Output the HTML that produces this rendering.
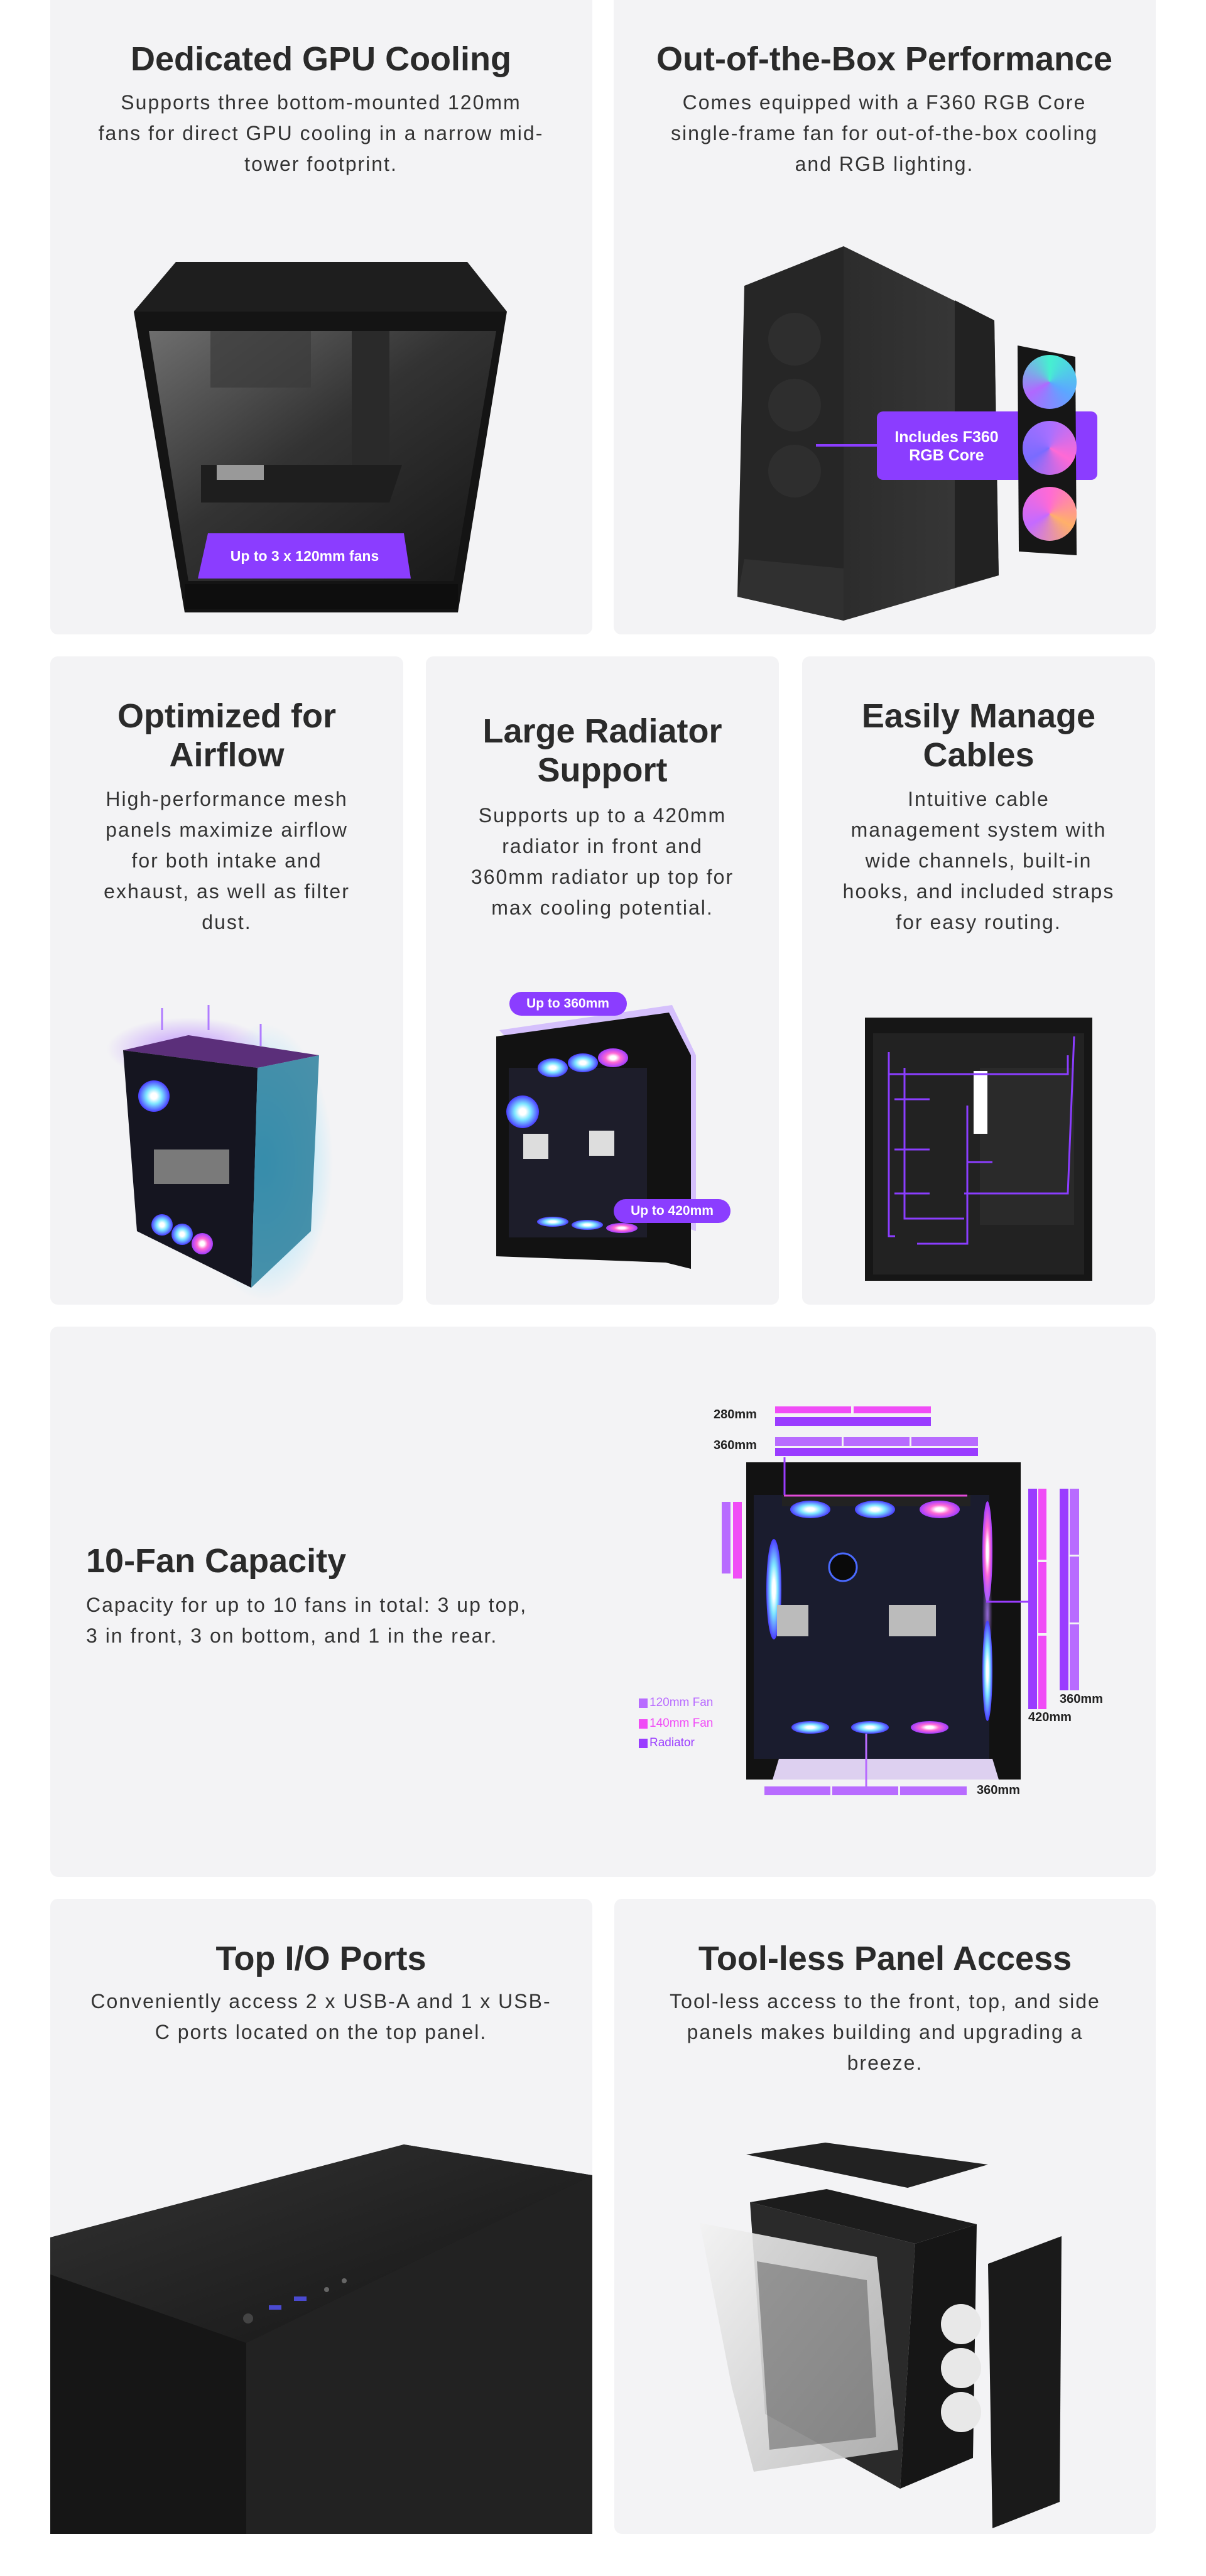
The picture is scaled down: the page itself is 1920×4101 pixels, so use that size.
<!DOCTYPE html>
<html><head><meta charset="utf-8">
<style>
*{margin:0;padding:0;box-sizing:border-box}
body{width:1920px;height:4101px;background:#fff;position:relative;overflow:hidden;font-family:"Liberation Sans",sans-serif}
.card{position:absolute;background:#f3f3f5;border-radius:12px}
.t{position:absolute;transform:translateX(-50%);white-space:nowrap;text-align:center;z-index:3}
.h{font-weight:bold;font-size:54px;line-height:62px;color:#2a2a2a}
.b{font-size:32px;line-height:49px;color:#333;letter-spacing:2px}
.lbl{position:absolute;z-index:3;color:#fff;font-weight:bold;white-space:nowrap}
svg{position:absolute;left:0;top:0;z-index:2}
.fan{position:absolute;border-radius:50%;z-index:4}
</style></head><body>
<div class="card" style="left:80px;top:-12px;width:863px;height:1022px"></div>
<div class="card" style="left:977px;top:-12px;width:863px;height:1022px"></div>
<div class="card" style="left:80px;top:1045px;width:562px;height:1032px"></div>
<div class="card" style="left:678px;top:1045px;width:562px;height:1032px"></div>
<div class="card" style="left:1277px;top:1045px;width:562px;height:1032px"></div>
<div class="card" style="left:80px;top:2112px;width:1760px;height:876px"></div>
<div class="card" style="left:80px;top:3023px;width:863px;height:1011px;overflow:hidden"></div>
<div class="card" style="left:978px;top:3023px;width:862px;height:1011px"></div>

<svg width="1920" height="4101" viewBox="0 0 1920 4101">
<defs>
<linearGradient id="glass" x1="0" y1="0" x2="1" y2="1"><stop offset="0" stop-color="#6e6e6e"/><stop offset=".45" stop-color="#333"/><stop offset="1" stop-color="#161616"/></linearGradient>
<linearGradient id="side" x1="0" y1="0" x2="1" y2="0"><stop offset="0" stop-color="#2c2c2c"/><stop offset="1" stop-color="#3a3a3a"/></linearGradient>
<radialGradient id="blue" cx=".5" cy=".5" r=".5"><stop offset="0" stop-color="#6fd8ff" stop-opacity=".9"/><stop offset="1" stop-color="#6fd8ff" stop-opacity="0"/></radialGradient>
<radialGradient id="pur" cx=".5" cy=".5" r=".5"><stop offset="0" stop-color="#b27cff" stop-opacity=".8"/><stop offset="1" stop-color="#b27cff" stop-opacity="0"/></radialGradient>
<radialGradient id="fc" cx=".5" cy=".5" r=".5"><stop offset=".2" stop-color="#fff"/><stop offset=".5" stop-color="#7ee6ff"/><stop offset="1" stop-color="#4a3cff"/></radialGradient>
<radialGradient id="fp" cx=".5" cy=".5" r=".5"><stop offset=".2" stop-color="#fff"/><stop offset=".5" stop-color="#ff6ad5"/><stop offset="1" stop-color="#a13cff"/></radialGradient>
<linearGradient id="topd" x1="0" y1="0" x2="1" y2="1"><stop offset="0" stop-color="#333"/><stop offset="1" stop-color="#141414"/></linearGradient>
<linearGradient id="wg" x1="0" y1="0" x2="1" y2="1"><stop offset="0" stop-color="#f2f2f2"/><stop offset="1" stop-color="#bdbdbd"/></linearGradient>
</defs>
<!-- Row1 card1 case -->
<polygon points="213,496 280,417 744,417 807,496" fill="#1e1e1e"/>
<polygon points="213,496 807,496 729,975 294,975" fill="#141414"/>
<polygon points="237,527 790,527 722,925 300,925" fill="url(#glass)"/>
<rect x="335" y="527" width="160" height="90" fill="#3a3a3a" opacity=".7"/>
<rect x="560" y="527" width="60" height="230" fill="#2a2a2a"/>
<polygon points="320,740 640,740 620,800 320,800" fill="#1e1e1e"/>
<rect x="345" y="740" width="75" height="24" fill="#999"/>
<polygon points="331,849 643,849 654,921 315,921" fill="#8b3dff"/>
<rect x="294" y="930" width="435" height="40" fill="#0e0e0e"/>
<!-- Row1 card2 case -->
<polygon points="1185,455 1343,392 1343,988 1174,950" fill="#262626"/>
<polygon points="1343,392 1583,510 1590,916 1343,988" fill="url(#side)"/>
<polygon points="1520,478 1583,510 1590,916 1520,935" fill="#222"/>
<polygon points="1185,890 1343,905 1343,988 1174,950" fill="#303030"/>
<circle cx="1265" cy="540" r="42" fill="#2e2e2e"/><circle cx="1265" cy="645" r="42" fill="#2e2e2e"/><circle cx="1265" cy="750" r="42" fill="#2e2e2e"/>
<line x1="1299" y1="709" x2="1396" y2="709" stroke="#8b3dff" stroke-width="4"/>
<rect x="1396" y="655" width="351" height="109" rx="10" fill="#8b3dff"/>
<polygon points="1620,550 1712,568 1714,884 1622,878" fill="#161616"/>
<!-- Row2 card1 airflow -->
<ellipse cx="420" cy="1850" rx="110" ry="220" fill="url(#blue)"/>
<ellipse cx="300" cy="1670" rx="130" ry="50" fill="url(#pur)"/>
<polygon points="196,1672 300,1648 508,1680 410,1700" fill="#5b2f7a"/>
<polygon points="196,1672 410,1700 400,2050 218,1960" fill="#151520"/>
<polygon points="410,1700 508,1680 495,1960 400,2050" fill="#2a7f9c" opacity=".85"/>
<circle cx="245" cy="1745" r="25" fill="url(#fc)"/>
<rect x="245" y="1830" width="120" height="55" fill="#7a7a7a"/>
<circle cx="258" cy="1950" r="17" fill="url(#fc)"/><circle cx="290" cy="1965" r="17" fill="url(#fc)"/><circle cx="322" cy="1980" r="17" fill="url(#fp)"/>
<line x1="258" y1="1640" x2="258" y2="1605" stroke="#b07cff" stroke-width="3"/>
<line x1="332" y1="1640" x2="332" y2="1600" stroke="#b07cff" stroke-width="3"/>
<line x1="415" y1="1665" x2="415" y2="1630" stroke="#b07cff" stroke-width="3"/>
<!-- Row2 card2 radiator -->
<polygon points="795,1640 1070,1600 1108,1680 1108,1960 1080,1950" fill="#c7a9ff" opacity=".7"/>
<polygon points="790,1650 1065,1612 1100,1680 1100,2020 1060,2010 790,2000" fill="#121212"/>
<rect x="810" y="1700" width="220" height="270" fill="#1d1d2a"/>
<circle cx="832" cy="1770" r="26" fill="url(#fc)"/>
<ellipse cx="880" cy="1700" rx="24" ry="15" fill="url(#fc)"/><ellipse cx="928" cy="1692" rx="24" ry="15" fill="url(#fc)"/><ellipse cx="976" cy="1684" rx="24" ry="15" fill="url(#fp)"/>
<rect x="833" y="1805" width="40" height="40" fill="#ddd"/><rect x="938" y="1800" width="40" height="40" fill="#ddd"/>
<ellipse cx="880" cy="1945" rx="25" ry="8" fill="url(#fc)"/><ellipse cx="935" cy="1950" rx="25" ry="8" fill="url(#fc)"/><ellipse cx="990" cy="1955" rx="25" ry="8" fill="url(#fp)"/>
<rect x="811" y="1579" width="187" height="38" rx="19" fill="#8b3dff"/>
<rect x="977" y="1909" width="186" height="38" rx="19" fill="#8b3dff"/>
<!-- Row2 card3 cables -->
<rect x="1377" y="1620" width="362" height="419" fill="#161616"/>
<rect x="1390" y="1645" width="336" height="384" fill="#222"/>
<rect x="1560" y="1700" width="150" height="250" fill="#2a2a2a"/>
<rect x="1550" y="1705" width="22" height="100" fill="#fff"/>
<g stroke="#8b3dff" stroke-width="3" fill="none">
<polyline points="1415,1675 1415,1968 1425,1968"/><polyline points="1415,1710 1700,1710 1700,1680"/><polyline points="1440,1700 1440,1940 1535,1940"/>
<polyline points="1424,1750 1480,1750"/><polyline points="1424,1830 1480,1830"/><polyline points="1424,1900 1480,1900"/>
<polyline points="1540,1760 1540,1980 1460,1980"/><polyline points="1540,1850 1580,1850"/><polyline points="1535,1900 1700,1900 1710,1650"/></g>
<!-- Row3 -->
<rect x="1234" y="2239" width="121" height="11" fill="#f04cf6"/><rect x="1359" y="2239" width="123" height="11" fill="#f04cf6"/>
<rect x="1234" y="2256" width="248" height="14" fill="#9a3cff"/>
<rect x="1234" y="2288" width="106" height="14" fill="#b86bff"/><rect x="1343" y="2288" width="105" height="14" fill="#b86bff"/><rect x="1451" y="2288" width="106" height="14" fill="#b86bff"/>
<rect x="1234" y="2305" width="323" height="13" fill="#9a3cff"/>
<rect x="1149" y="2391" width="14" height="114" fill="#b86bff"/><rect x="1167" y="2391" width="14" height="122" fill="#f04cf6"/>
<rect x="1188" y="2328" width="437" height="505" fill="#121212"/>
<rect x="1200" y="2380" width="375" height="420" fill="#1a1c2e"/>
<rect x="1245" y="2380" width="300" height="18" fill="#222"/>
<line x1="1248" y1="2381" x2="1540" y2="2381" stroke="#e24bd9" stroke-width="3"/>
<ellipse cx="1290" cy="2403" rx="32" ry="14" fill="url(#fc)"/><ellipse cx="1393" cy="2403" rx="32" ry="14" fill="url(#fc)"/><ellipse cx="1496" cy="2403" rx="32" ry="14" fill="url(#fp)"/>
<ellipse cx="1232" cy="2530" rx="12" ry="80" fill="url(#fc)"/>
<ellipse cx="1572" cy="2470" rx="8" ry="80" fill="url(#fp)"/><ellipse cx="1572" cy="2570" rx="8" ry="70" fill="url(#pur)"/><ellipse cx="1572" cy="2660" rx="8" ry="80" fill="url(#fc)"/>
<circle cx="1342" cy="2495" r="22" fill="#0a0a0a" stroke="#4a6aff" stroke-width="3"/>
<rect x="1237" y="2555" width="50" height="50" fill="#bbb"/><rect x="1415" y="2555" width="75" height="50" fill="#bbb"/>
<ellipse cx="1290" cy="2750" rx="30" ry="10" fill="url(#fc)"/><ellipse cx="1385" cy="2750" rx="30" ry="10" fill="url(#fc)"/><ellipse cx="1480" cy="2750" rx="30" ry="10" fill="url(#fp)"/>
<polygon points="1240,2800 1580,2800 1590,2833 1230,2833" fill="#ddd0f0"/>
<line x1="1249" y1="2320" x2="1249" y2="2380" stroke="#9a3cff" stroke-width="3"/>
<line x1="1379" y1="2760" x2="1379" y2="2844" stroke="#b86bff" stroke-width="3"/>
<line x1="1570" y1="2550" x2="1637" y2="2550" stroke="#9a3cff" stroke-width="3"/>
<rect x="1637" y="2370" width="14" height="351" fill="#9a3cff"/>
<rect x="1653" y="2370" width="13" height="113" fill="#f04cf6"/><rect x="1653" y="2487" width="13" height="113" fill="#f04cf6"/><rect x="1653" y="2604" width="13" height="117" fill="#f04cf6"/>
<rect x="1687" y="2370" width="14" height="321" fill="#9a3cff"/>
<rect x="1703" y="2370" width="15" height="105" fill="#b86bff"/><rect x="1703" y="2478" width="15" height="105" fill="#b86bff"/><rect x="1703" y="2586" width="15" height="105" fill="#b86bff"/>
<rect x="1217" y="2844" width="105" height="14" fill="#b86bff"/><rect x="1325" y="2844" width="105" height="14" fill="#b86bff"/><rect x="1433" y="2844" width="106" height="14" fill="#b86bff"/>
<rect x="1017" y="2704" width="14" height="15" fill="#b86bff"/><rect x="1017" y="2737" width="14" height="15" fill="#f04cf6"/><rect x="1017" y="2768" width="14" height="15" fill="#9a3cff"/>
<!-- Row4 left -->
<polygon points="80,3562 643,3414 943,3463 943,4034 80,4034" fill="#1a1a1a"/>
<polygon points="80,3562 643,3414 943,3463 392,3730 80,3621" fill="url(#topd)"/>
<polygon points="392,3730 943,3463 943,4034 392,4034" fill="#222"/>
<polygon points="80,3621 392,3730 392,4034 80,4034" fill="#161616"/>
<circle cx="395" cy="3691" r="8" fill="#444"/><rect x="428" y="3670" width="20" height="7" fill="#4a4ad0"/><rect x="468" y="3656" width="20" height="7" fill="#4a4ad0"/><circle cx="520" cy="3645" r="4" fill="#666"/><circle cx="548" cy="3631" r="4" fill="#666"/>
<!-- Row4 right exploded -->
<polygon points="1188,3430 1314,3411 1573,3446 1445,3483" fill="#222"/>
<polygon points="1194,3506 1316,3485 1555,3541 1457,3572" fill="#1c1c1c"/>
<polygon points="1194,3506 1457,3572 1433,3962 1218,3843" fill="#2a2a2a"/>
<polygon points="1457,3572 1555,3541 1549,3913 1433,3962" fill="#161616"/>
<polygon points="1114,3539 1396,3593 1430,3900 1200,3935 1165,3800" fill="url(#wg)" opacity=".9"/>
<polygon points="1205,3600 1380,3630 1395,3880 1225,3900" fill="#555" opacity=".5"/>
<circle cx="1530" cy="3700" r="32" fill="#e8e8e8"/><circle cx="1530" cy="3770" r="32" fill="#e8e8e8"/><circle cx="1530" cy="3840" r="32" fill="#e8e8e8"/>
<polygon points="1573,3604 1690,3560 1687,3983 1580,4025" fill="#1a1a1a"/>
</svg>

<div class="fan" style="left:1628px;top:565px;width:86px;height:86px;background:conic-gradient(#46f0d0,#5ba8ff,#b068ff,#46f0d0)"></div>
<div class="fan" style="left:1628px;top:670px;width:86px;height:86px;background:conic-gradient(#a770ff,#ff6ad5,#7a6bff,#a770ff)"></div>
<div class="fan" style="left:1628px;top:775px;width:86px;height:86px;background:conic-gradient(#ff6ad5,#ffb06a,#c46aff,#ff6ad5)"></div>

<div class="t h" style="left:511px;top:63px">Dedicated GPU Cooling</div>
<div class="t b" style="left:511px;top:139px">Supports three bottom-mounted 120mm<br>fans for direct GPU cooling in a narrow mid-<br>tower footprint.</div>
<div class="lbl" style="left:485px;top:872px;transform:translateX(-50%);font-size:23px">Up to 3 x 120mm fans</div>

<div class="t h" style="left:1408px;top:63px">Out-of-the-Box Performance</div>
<div class="t b" style="left:1408px;top:139px">Comes equipped with a F360 RGB Core<br>single-frame fan for out-of-the-box cooling<br>and RGB lighting.</div>
<div class="lbl" style="left:1507px;top:682px;transform:translateX(-50%);font-size:25px;line-height:29px;text-align:center;z-index:3">Includes F360<br>RGB Core</div>

<div class="t h" style="left:361px;top:1109px">Optimized for<br>Airflow</div>
<div class="t b" style="left:361px;top:1248px">High-performance mesh<br>panels maximize airflow<br>for both intake and<br>exhaust, as well as filter<br>dust.</div>
<div class="t h" style="left:959px;top:1133px">Large Radiator<br>Support</div>
<div class="t b" style="left:959px;top:1274px">Supports up to a 420mm<br>radiator in front and<br>360mm radiator up top for<br>max cooling potential.</div>
<div class="lbl" style="left:904px;top:1586px;transform:translateX(-50%);font-size:21px">Up to 360mm</div>
<div class="lbl" style="left:1070px;top:1916px;transform:translateX(-50%);font-size:21px">Up to 420mm</div>
<div class="t h" style="left:1558px;top:1109px">Easily Manage<br>Cables</div>
<div class="t b" style="left:1558px;top:1248px">Intuitive cable<br>management system with<br>wide channels, built-in<br>hooks, and included straps<br>for easy routing.</div>

<div class="h" style="position:absolute;left:137px;top:2454px;z-index:3;white-space:nowrap">10-Fan Capacity</div>
<div class="b" style="position:absolute;left:137px;top:2531px;z-index:3;white-space:nowrap">Capacity for up to 10 fans in total: 3 up top,<br>3 in front, 3 on bottom, and 1 in the rear.</div>
<div style="position:absolute;z-index:3;font-size:20px;font-weight:bold;color:#222;left:1136px;top:2241px">280mm</div>
<div style="position:absolute;z-index:3;font-size:20px;font-weight:bold;color:#222;left:1136px;top:2290px">360mm</div>
<div style="position:absolute;z-index:3;font-size:20px;font-weight:bold;color:#222;left:1687px;top:2694px">360mm</div>
<div style="position:absolute;z-index:3;font-size:20px;font-weight:bold;color:#222;left:1637px;top:2723px">420mm</div>
<div style="position:absolute;z-index:3;font-size:20px;font-weight:bold;color:#222;left:1555px;top:2839px">360mm</div>
<div style="position:absolute;z-index:3;font-size:19px;color:#b86bff;left:1034px;top:2700px">120mm Fan</div>
<div style="position:absolute;z-index:3;font-size:19px;color:#f04cf6;left:1034px;top:2733px">140mm Fan</div>
<div style="position:absolute;z-index:3;font-size:19px;color:#9a3cff;left:1034px;top:2764px">Radiator</div>

<div class="t h" style="left:511px;top:3087px">Top I/O Ports</div>
<div class="t b" style="left:511px;top:3162px">Conveniently access 2 x USB-A and 1 x USB-<br>C ports located on the top panel.</div>
<div class="t h" style="left:1409px;top:3087px">Tool-less Panel Access</div>
<div class="t b" style="left:1409px;top:3162px">Tool-less access to the front, top, and side<br>panels makes building and upgrading a<br>breeze.</div>
</body></html>
